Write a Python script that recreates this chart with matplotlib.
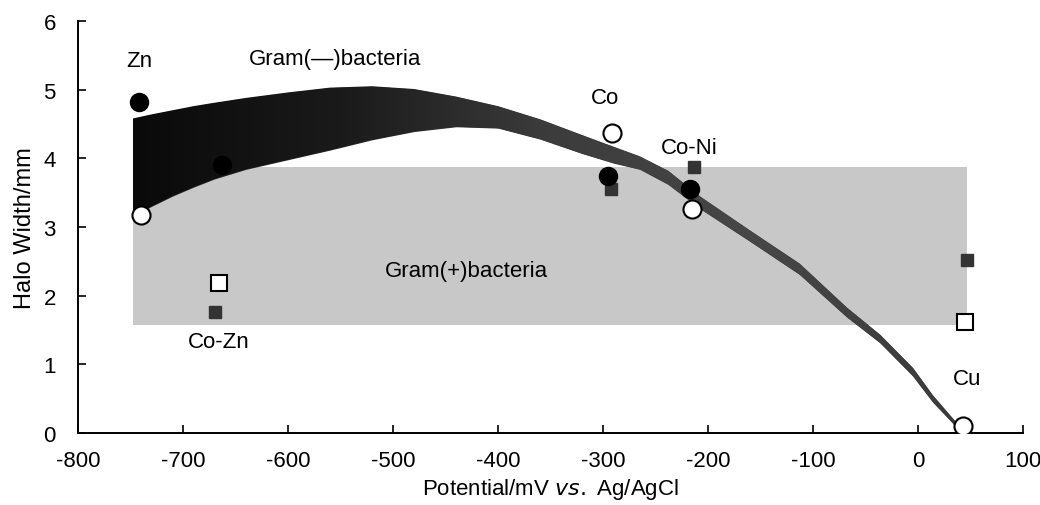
import numpy as np
import matplotlib
matplotlib.use("Agg")
import matplotlib.pyplot as plt
from matplotlib.colors import LinearSegmentedColormap

plt.rcParams['font.family'] = ['Liberation Sans Narrow', 'Liberation Sans', 'DejaVu Sans']
plt.rcParams['axes.unicode_minus'] = False

# marker data (potential mV, halo width mm)
filled_circle_x = [-742, -663, -295, -217]
filled_circle_y = [4.82, 3.90, 3.74, 3.55]
open_circle_x = [-740, -291, -215, 43]
open_circle_y = [3.17, 4.37, 3.26, 0.10]
filled_square_x = [-670, -292, -213, 47]
filled_square_y = [1.76, 3.55, 3.87, 2.52]
open_square_x = [-666, 45]
open_square_y = [2.18, 1.62]

# Gram(+) region
gpos_x = [-748, 47]
gpos_low = 1.58
gpos_high = 3.87

# Gram(-) region boundaries
gneg_x = [-748, -730, -710, -690, -670, -640, -600, -560, -520, -480, -440, -400, -360,
          -320, -290, -265, -238, -207, -160, -113, -68, -36, -5, 14, 40]
gneg_upper = [4.58, 4.64, 4.70, 4.76, 4.81, 4.88, 4.96, 5.03, 5.05, 5.01, 4.90, 4.76, 4.57,
              4.34, 4.17, 4.03, 3.82, 3.44, 2.95, 2.47, 1.83, 1.43, 0.95, 0.55, 0.09]
gneg_lower = [3.15, 3.30, 3.45, 3.58, 3.70, 3.84, 3.98, 4.12, 4.27, 4.39, 4.46, 4.44, 4.28,
              4.07, 3.93, 3.84, 3.62, 3.26, 2.79, 2.31, 1.69, 1.31, 0.83, 0.45, 0.03]

labels = [("Zn", -742, 5.42), ("Gram(—)bacteria", -555, 5.45), ("Co", -298, 4.89),
          ("Co-Ni", -218, 4.16), ("Gram(+)bacteria", -430, 2.36),
          ("Co-Zn", -666, 1.33), ("Cu", 47, 0.79)]

fig = plt.figure(figsize=(10.4, 5.06), dpi=100)
ax = fig.add_axes([0.075, 0.1423, 0.9087, 0.8142])

ax.fill_between(gpos_x, gpos_low, gpos_high, color='#c8c8c8', lw=0, zorder=1)

poly = ax.fill_between(gneg_x, gneg_lower, gneg_upper, color='#333333', lw=0, zorder=2)
cmap = LinearSegmentedColormap.from_list('band', ['#0a0a0a', '#1a1a1a', '#3c3c3c', '#474747', '#3a3a3a'])
grad = np.linspace(0, 1, 256).reshape(1, -1)
im = ax.imshow(grad, extent=[-748, 45, 0, 5.2], aspect='auto', cmap=cmap, zorder=2.1)
im.set_clip_path(poly.get_paths()[0], transform=ax.transData)

ax.plot(open_square_x, open_square_y, 's', ms=11, mfc='white', mec='black', mew=1.5, zorder=4)
ax.plot(filled_square_x, filled_square_y, 's', ms=9, mfc='#333333', mec='#333333', zorder=4)
ax.plot(open_circle_x, open_circle_y, 'o', ms=13, mfc='white', mec='black', mew=1.5, zorder=5)
ax.plot(filled_circle_x, filled_circle_y, 'o', ms=13, mfc='black', mec='black', zorder=5)

for txt, x, y in labels:
    ax.text(x, y, txt, fontsize=16, ha='center', va='center', zorder=6)

ax.set_xlim(-800, 100)
ax.set_ylim(0, 6)
ax.set_xticks(np.arange(-800, 101, 100))
ax.set_yticks(np.arange(0, 7, 1))
ax.tick_params(direction='in', length=6, width=1.2, labelsize=16)
ax.tick_params(axis='x', pad=12)
ax.tick_params(axis='y', pad=16)
ax.spines['top'].set_visible(False)
ax.spines['right'].set_visible(False)
ax.spines['left'].set_linewidth(1.4)
ax.spines['bottom'].set_linewidth(1.4)

ax.set_ylabel('Halo Width/mm', fontsize=17, labelpad=5)
ax.set_xlabel(r'Potential/mV $\it{vs.}$ Ag/AgCl', fontsize=16, labelpad=4)

fig.savefig('out.png', dpi=100)
